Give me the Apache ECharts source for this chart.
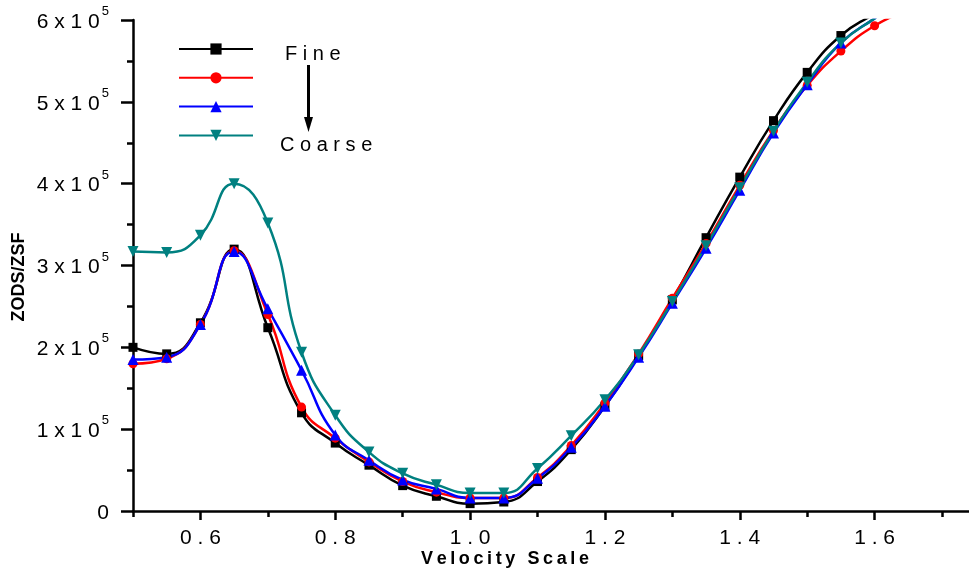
<!DOCTYPE html>
<html>
<head>
<meta charset="utf-8">
<script src="https://cdn.jsdelivr.net/npm/echarts@6/dist/echarts.min.js"></script>
<style>html,body{margin:0;padding:0;background:#fff}#c{width:969px;height:573px}</style>
</head>
<body>
<div id="c"></div>
<script>
const velocity = [0.5,0.55,0.6,0.65,0.7,0.75,0.8,0.85,0.9,0.95,1.0,1.05,1.1,1.15,1.2,1.25,1.3,1.35,1.4,1.45,1.5,1.55,1.6,1.65];
const fine   = [2.00,1.92,2.30,3.20,2.24,1.20,0.83,0.56,0.31,0.18,0.09,0.11,0.36,0.75,1.28,1.90,2.58,3.34,4.08,4.77,5.36,5.81,6.08,6.35];
const mesh2  = [1.80,1.86,2.28,3.18,2.40,1.27,0.89,0.60,0.36,0.23,0.16,0.16,0.41,0.80,1.32,1.92,2.60,3.27,3.98,4.65,5.20,5.62,5.93,6.12];
const mesh3  = [1.85,1.88,2.28,3.17,2.47,1.72,0.93,0.62,0.38,0.27,0.16,0.16,0.40,0.78,1.28,1.88,2.54,3.21,3.92,4.62,5.21,5.72,6.02,6.30];
const coarse = [3.17,3.16,3.37,4.00,3.52,1.94,1.17,0.72,0.46,0.32,0.22,0.22,0.52,0.92,1.36,1.91,2.56,3.24,3.95,4.64,5.24,5.72,6.02,6.30];
const scale = 1e5;
const xMajorTicks = [0.6,0.8,1.0,1.2,1.4,1.6];
const xMinorTicks = [0.5,0.7,0.9,1.1,1.3,1.5,1.7];

const FONT = 'Liberation Sans, Arial, sans-serif';
const toPairs = arr => velocity.map((x,i)=>[x, arr[i]*scale]);

const chart = echarts.init(document.getElementById('c'), null, {renderer:'canvas'});
const mk = (name, data, color, symbol, rot) => ({
  name, type:'line', data: toPairs(data), smooth: 0.5,
  symbol, symbolSize: symbol==='rect'?9:(symbol==='circle'?9:11), symbolRotate: rot||0,
  showAllSymbol: true, clip: true,
  lineStyle:{color, width:2.5}, itemStyle:{color}, z: 3
});

const option = {
  animation:false,
  backgroundColor:'#fff',
  grid:{left:133, right:0, top:20, bottom:62, containLabel:false},
  legend:{
    orient:'vertical', left:178, top:42, padding:0, itemWidth:74, itemHeight:14, itemGap:16.2,
    formatter: () => '', textStyle:{fontSize:10},
    data:['Fine','M2','M3','Coarse'], selectedMode:false
  },
  xAxis:[{
    type:'value', min:0.5, max:1.74,
    axisLine:{show:true, onZero:false, lineStyle:{color:'#000', width:2.5}},
    axisTick:{show:true, inside:false, length:9, lineStyle:{color:'#000', width:2.5}, customValues: xMajorTicks},
    axisLabel:{show:true, margin:17, color:'#000', fontSize:21, fontFamily:FONT,
      customValues: xMajorTicks,
      formatter: v => v.toFixed(1).split('').join(' ')},
    splitLine:{show:false}
  },{
    type:'value', min:0.5, max:1.74, position:'bottom',
    axisLine:{show:false},
    axisTick:{show:true, length:6, lineStyle:{color:'#000', width:2.5}, customValues: xMinorTicks},
    axisLabel:{show:false}, splitLine:{show:false}
  }],
  yAxis:{
    type:'value', min:0, max:6*scale, interval:scale,
    axisLine:{show:true, lineStyle:{color:'#000', width:2.5}},
    axisTick:{show:true, length:12, lineStyle:{color:'#000', width:2.5}},
    minorTick:{show:true, splitNumber:2, length:6, lineStyle:{color:'#000', width:2.5}},
    splitLine:{show:false}, minorSplitLine:{show:false},
    axisLabel:{margin:24, color:'#000', fontFamily:FONT,
      formatter: v => {
        const n = Math.round(v/scale);
        if (n === 0) return '{a|0}';
        return '{a|' + n + ' x 1 0}{b|5}';
      },
      rich:{
        a:{fontSize:21, lineHeight:34, fontFamily:FONT, color:'#000', padding:[4,0,0,0]},
        b:{fontSize:13, verticalAlign:'top', fontFamily:FONT, color:'#000', padding:[2,0,0,2]}
      }
    }
  },
  series:[
    mk('Fine', fine, '#000000', 'rect'),
    mk('M2', mesh2, '#ff0000', 'circle'),
    mk('M3', mesh3, '#0000ff', 'triangle'),
    mk('Coarse', coarse, '#008080', 'triangle', 180)
  ],
  graphic:[
    {type:'text', left:285, top:44, style:{text:'F i n e', font:'20px '+FONT, fill:'#000'}},
    {type:'text', left:280, top:135, style:{text:'C o a r s e', font:'20px '+FONT, fill:'#000'}},
    {type:'line', shape:{x1:308.5, y1:65, x2:308.5, y2:120}, style:{stroke:'#000', lineWidth:3}},
    {type:'polygon', shape:{points:[[304,117],[313,117],[308.5,132]]}, style:{fill:'#000'}},
    {type:'text', x:19, y:277, rotation:Math.PI/2,
      style:{text:'ZODS/ZSF', font:'bold 18px '+FONT, fill:'#000', align:'center', verticalAlign:'middle'}},
    {type:'text', x:505, y:559,
      style:{text:'V\u2009e\u2009l\u2009o\u2009c\u2009i\u2009t\u2009y\u2009 \u2009S\u2009c\u2009a\u2009l\u2009e', font:'bold 18px '+FONT, fill:'#000', align:'center', verticalAlign:'middle'}}
  ]
};
chart.setOption(option);
</script>
</body>
</html>
